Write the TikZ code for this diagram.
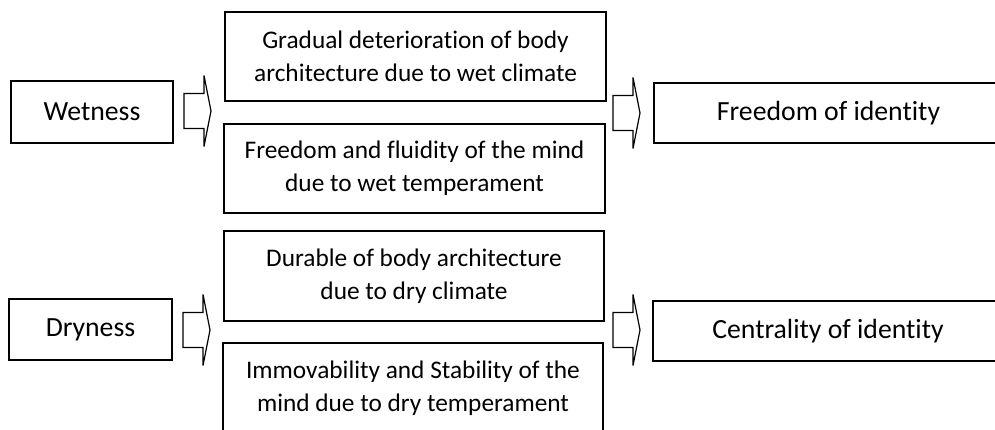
\documentclass[tikz,border=0pt]{standalone}
\usepackage{fontspec}
\setmainfont{Carlito}[Ligatures=NoCommon]

\tikzset{
  box/.style={draw, line width=0.9pt, align=center, inner sep=0pt,
    font=\fontsize{19}{24.75}\selectfont},
  label box/.style={box, font=\fontsize{20.8}{25}\selectfont},
  blockarr/.pic={
    \draw[line width=0.9pt] (0,-17.5) -- (20,-17.5) -- (20,-35.5) -- (27,0) -- (20,35.5) -- (20,17.5) -- (0,17.5) -- cycle ;
  }
}

\begin{document}
\begin{tikzpicture}[x=0.75pt,y=0.75pt,yscale=-1,xscale=1]
\useasboundingbox (0,0) rectangle (995,429);
\clip (0,0) rectangle (995,429);

%Wetness row
\node [label box, minimum width=121.5pt, minimum height=46.5pt] (wet) at (92,112) {Wetness};
\node [box, minimum width=285.75pt, minimum height=66.75pt] (wetbody) at (415.5,56.5) {Gradual deterioration of body\\architecture due to wet climate};
\node [box, minimum width=285.75pt, minimum height=66.75pt] (wetmind) at (414.5,168.5) {Freedom and fluidity of the mind\\due to wet temperament};
\node [label box, minimum width=261.75pt, minimum height=45pt] (freeid) at (828.5,113) {Freedom of identity};

%Dryness row
\node [label box, minimum width=122.25pt, minimum height=45.75pt] (dry) at (90.5,329.5) {Dryness};
\node [box, minimum width=285pt, minimum height=67.5pt] (drybody) at (414,276) {Durable of body architecture\\due to dry climate};
\node [box, minimum width=285pt, minimum height=67.5pt] (drymind) at (413,388) {Immovability and Stability of the\\mind due to dry temperament};
\node [label box, minimum width=262.5pt, minimum height=45pt] (centid) at (828,331) {Centrality of identity};

%Block arrows
\pic at (184,111) {blockarr};
\pic at (613,113) {blockarr};
\pic at (183,330) {blockarr};
\pic at (613,330) {blockarr};
\end{tikzpicture}
\end{document}
